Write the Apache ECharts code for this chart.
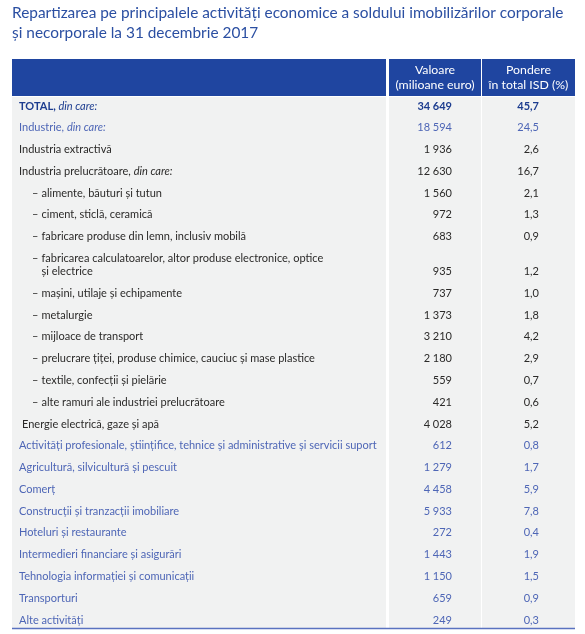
<!DOCTYPE html>
<html><head><meta charset="utf-8">
<script src="https://cdn.jsdelivr.net/npm/echarts@6/dist/echarts.min.js"></script>
<style>html,body{margin:0;padding:0;background:#fff}#c{width:585px;height:634px}</style>
</head><body><div id="c"></div>
<script>
// ---- data ----
const titleLines = ['Repartizarea pe principalele activități economice a soldului imobilizărilor corporale', 'și necorporale la 31 decembrie 2017'];
const headerValue = 'Valoare\n(milioane euro)';
const headerShare = 'Pondere\nîn total ISD (%)';
const categories = [
  'TOTAL,', 'Industrie,', 'Industria extractivă', 'Industria prelucrătoare,',
  'alimente, băuturi și tutun', 'ciment, sticlă, ceramică', 'fabricare produse din lemn, inclusiv mobilă',
  'fabricarea calculatoarelor, altor produse electronice, optice\nși electrice',
  'mașini, utilaje și echipamente', 'metalurgie', 'mijloace de transport',
  'prelucrare țiței, produse chimice, cauciuc și mase plastice', 'textile, confecții și pielărie',
  'alte ramuri ale industriei prelucrătoare', 'Energie electrică, gaze și apă',
  'Activități profesionale, științifice, tehnice și administrative și servicii suport',
  'Agricultură, silvicultură și pescuit', 'Comerț', 'Construcții și tranzacții imobiliare',
  'Hoteluri și restaurante', 'Intermedieri financiare și asigurări',
  'Tehnologia informației și comunicații', 'Transporturi', 'Alte activități'
];
const suffixes = ['din care:', 'din care:', '', 'din care:', '', '', '', '', '', '', '', '', '', '', '', '', '', '', '', '', '', '', '', ''];
const rowKinds = ['total', 'industry', 'main', 'main', 'sub', 'sub', 'sub', 'sub', 'sub', 'sub', 'sub', 'sub', 'sub', 'sub', 'energy',
  'sector', 'sector', 'sector', 'sector', 'sector', 'sector', 'sector', 'sector', 'sector'];
const values = [34649, 18594, 1936, 12630, 1560, 972, 683, 935, 737, 1373, 3210, 2180, 559, 421, 4028, 612, 1279, 4458, 5933, 272, 1443, 1150, 659, 249];
const shares = [45.7, 24.5, 2.6, 16.7, 2.1, 1.3, 0.9, 1.2, 1.0, 1.8, 4.2, 2.9, 0.7, 0.6, 5.2, 0.8, 1.7, 5.9, 7.8, 0.4, 1.9, 1.5, 0.9, 0.3];

// ---- helpers ----
const FONT = "Lato,'Liberation Sans',Arial,sans-serif";
const BODY_PX = 11;
const BLUE_DARK = '#1c3c8f', BLUE_LIGHT = '#4e66b6', INK = '#2b2a29', HEAD = '#1f45a0', GRAY = '#f1f2f2';
const LINE_STEP = 0.6; // extra row units per extra text line
function fmtNum(n) { return String(n).replace(/\B(?=(\d{3})+(?!\d))/g, ' '); }
function fmtShare(s) { return s.toFixed(1).replace('.', ','); }
const rowPos = [];
let acc = 0;
categories.forEach((c, i) => {
  const lines = c.split('\n').length;
  rowPos.push({ top: acc, last: acc + (lines - 1) * LINE_STEP });
  acc += 1 + (lines - 1) * LINE_STEP;
});
const yMax = rowPos[rowPos.length - 1].last;

const chart = echarts.init(document.getElementById('c'), null, { renderer: 'canvas' });
const data = categories.map((c, i) => [i, rowPos[i].top, rowPos[i].last, values[i], shares[i]]);

function colorOf(kind) {
  if (kind === 'total') return BLUE_DARK;
  if (kind === 'industry' || kind === 'sector') return BLUE_LIGHT;
  return INK;
}

chart.setOption({
  animation: false,
  grid: { left: 12, right: 10, top: 97, bottom: 6 },
  xAxis: { type: 'value', min: 0, max: 563, show: false },
  yAxis: { type: 'value', inverse: true, min: -0.413, max: yMax + 0.367, show: false },
  graphic: [
    { type: 'text', left: 12, top: 3, style: { text: titleLines.join('\n'), font: "15.4px " + FONT, fill: '#2b4fa2', lineHeight: 20 } },
    { type: 'rect', shape: { x: 12, y: 59, width: 374, height: 37 }, style: { fill: HEAD } },
    { type: 'rect', shape: { x: 389, y: 59, width: 92, height: 37 }, style: { fill: HEAD } },
    { type: 'rect', shape: { x: 482, y: 59, width: 93, height: 37 }, style: { fill: HEAD } },
    { type: 'text', x: 435, y: 78, style: { text: headerValue, font: "12.3px " + FONT, fill: '#fff', align: 'center', verticalAlign: 'middle', lineHeight: 15 } },
    { type: 'text', x: 528.5, y: 78, style: { text: headerShare, font: "12.3px " + FONT, fill: '#fff', align: 'center', verticalAlign: 'middle', lineHeight: 15 } },
    { type: 'rect', z: -1, shape: { x: 12, y: 97, width: 374, height: 531 }, style: { fill: GRAY } },
    { type: 'rect', z: -1, shape: { x: 389, y: 97, width: 92, height: 531 }, style: { fill: GRAY } },
    { type: 'rect', z: -1, shape: { x: 482, y: 97, width: 93, height: 531 }, style: { fill: GRAY } },
    { type: 'line', shape: { x1: 12, y1: 628.5, x2: 575, y2: 628.5 }, style: { stroke: '#5a72c0', lineWidth: 1.5 } }
  ],
  series: [{
    type: 'custom',
    data: data,
    renderItem: function (params, api) {
      const i = api.value(0);
      const kind = rowKinds[i];
      const col = colorOf(kind);
      const yTop = api.coord([0, api.value(1)])[1];
      const yLast = api.coord([0, api.value(2)])[1];
      const lineH = yLast - yTop;
      const bold = kind === 'total';
      const baseFont = (bold ? 'bold ' : '') + BODY_PX + 'px ' + FONT;
      const children = [];
      const text = categories[i];
      const nLines = text.split('\n').length;
      const yMid = (yTop + yLast) / 2;
      let xLabel = api.coord([7, 0])[0];
      if (kind === 'energy') xLabel = api.coord([10, 0])[0];
      if (kind === 'sub') {
        children.push({ type: 'text', style: { x: api.coord([20, 0])[0], y: yTop, text: '–', font: baseFont, fill: col, verticalAlign: 'middle' } });
        xLabel = api.coord([29.5, 0])[0];
      }
      const suf = suffixes[i];
      children.push({
        type: 'text',
        style: {
          x: xLabel, y: yMid, verticalAlign: 'middle',
          text: suf ? '{a|' + text + '} {b|' + suf + '}' : text,
          font: baseFont, fill: col, lineHeight: nLines > 1 ? lineH / (nLines - 1) : 14,
          rich: {
            a: { font: baseFont, fill: col },
            b: { font: 'italic ' + BODY_PX + 'px ' + FONT, fill: col }
          }
        }
      });
      children.push({ type: 'text', style: { x: api.coord([440, 0])[0], y: yLast, text: fmtNum(api.value(3)), font: baseFont, fill: col, align: 'right', verticalAlign: 'middle' } });
      children.push({ type: 'text', style: { x: api.coord([527, 0])[0], y: yLast, text: fmtShare(api.value(4)), font: baseFont, fill: col, align: 'right', verticalAlign: 'middle' } });
      return { type: 'group', children: children };
    }
  }]
});
</script></body></html>
